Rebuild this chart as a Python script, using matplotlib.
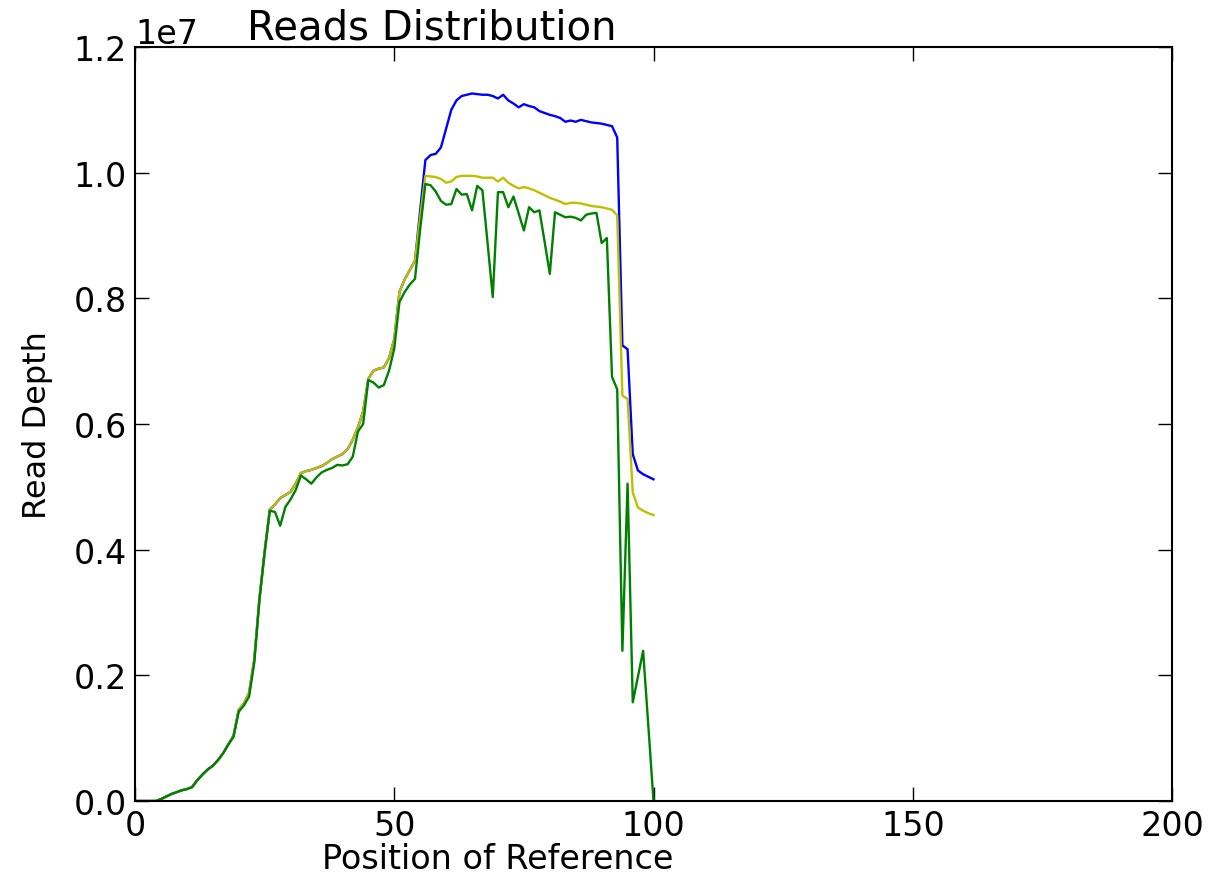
import matplotlib
matplotlib.use('Agg')
import matplotlib.pyplot as plt
import numpy as np

# read depth per position (units of 1e6 reads)
pos = np.arange(101)

green = [0, 0, 0, 0, 0.0, 0.03, 0.07, 0.11, 0.14, 0.17,
         0.19, 0.22, 0.33, 0.42, 0.50, 0.56, 0.65, 0.76, 0.90, 1.02,
         1.42, 1.52, 1.66, 2.20, 3.20, 3.95, 4.62, 4.60, 4.38, 4.68,
         4.80, 4.95, 5.18, 5.12, 5.05, 5.15, 5.23, 5.27, 5.30, 5.35,
         5.34, 5.36, 5.48, 5.88, 6.00, 6.70, 6.66, 6.58, 6.62, 6.85,
         7.20, 7.94, 8.10, 8.22, 8.31, 9.10, 9.82, 9.80, 9.70, 9.55,
         9.49, 9.50, 9.74, 9.65, 9.66, 9.40, 9.79, 9.72, 8.88, 8.02,
         9.69, 9.69, 9.45, 9.62, 9.35, 9.08, 9.45, 9.37, 9.40, 8.90,
         8.39, 9.37, 9.33, 9.29, 9.30, 9.28, 9.24, 9.33, 9.35, 9.36,
         8.88, 8.96, 6.75, 6.55, 2.39, 5.05, 1.57, 1.98, 2.39, 1.20,
         0.0]

yellow = [0, 0, 0, 0, 0.0, 0.03, 0.07, 0.11, 0.14, 0.17,
          0.19, 0.22, 0.33, 0.42, 0.50, 0.56, 0.65, 0.76, 0.90, 1.04,
          1.45, 1.55, 1.72, 2.25, 3.22, 3.97, 4.64, 4.72, 4.82, 4.87,
          4.92, 5.05, 5.22, 5.25, 5.27, 5.30, 5.33, 5.38, 5.44, 5.48,
          5.52, 5.60, 5.75, 5.95, 6.20, 6.72, 6.85, 6.88, 6.90, 7.05,
          7.35, 8.10, 8.30, 8.45, 8.60, 9.30, 9.95, 9.94, 9.93, 9.90,
          9.84, 9.86, 9.93, 9.95, 9.95, 9.95, 9.94, 9.92, 9.92, 9.92,
          9.86, 9.92, 9.84, 9.79, 9.75, 9.77, 9.75, 9.72, 9.68, 9.64,
          9.60, 9.57, 9.54, 9.50, 9.52, 9.52, 9.51, 9.49, 9.47, 9.46,
          9.45, 9.43, 9.41, 9.32, 6.45, 6.40, 4.91, 4.67, 4.62, 4.58,
          4.55]

blue = yellow[:55] + [
    9.40, 10.20, 10.28, 10.30, 10.40,
    10.70, 11.00, 11.15, 11.22, 11.24, 11.26, 11.25, 11.24, 11.24, 11.22,
    11.18, 11.24, 11.15, 11.10, 11.04, 11.09, 11.06, 11.04, 10.98, 10.95,
    10.92, 10.90, 10.87, 10.81, 10.83, 10.81, 10.84, 10.82, 10.80, 10.79,
    10.78, 10.76, 10.74, 10.56, 7.25, 7.19, 5.52, 5.26, 5.20, 5.16,
    5.12]

plt.rcParams['font.family'] = ['DejaVu Sans']
fig = plt.figure(figsize=(12.3, 8.79), dpi=100)
ax = fig.add_axes([135/1230, 1 - 802/879, (1172 - 135)/1230, (802 - 48)/879])

ax.plot(pos, np.array(blue) * 1e6, color='b', lw=1.7)
ax.plot(pos, np.array(yellow) * 1e6, color=(0.75, 0.75, 0), lw=1.7)
ax.plot(pos, np.array(green) * 1e6, color='g', lw=1.7)

ax.set_xlim(0, 200)
ax.set_ylim(0, 1.2e7)
ax.set_xticks([0, 50, 100, 150, 200])
ax.set_yticks(np.arange(0, 1.21e7, 0.2e7))
ax.tick_params(direction='in', top=True, right=True, length=10, width=1,
               labelsize=24, pad=6)
ax.yaxis.get_offset_text().set_fontsize(24)
for s in ax.spines.values():
    s.set_linewidth(1.5)

ax.set_xlabel('Position of Reference', fontsize=24)
ax.xaxis.set_label_coords(0.35, -0.054)
ax.set_ylabel('Read Depth', fontsize=23)
ax.yaxis.set_label_coords(-0.079, 0.5)
fig.text(432/1230, 1 - 40/879, 'Reads Distribution', fontsize=29,
         ha='center', va='baseline')

fig.savefig('out.png', dpi=100, facecolor='white')
